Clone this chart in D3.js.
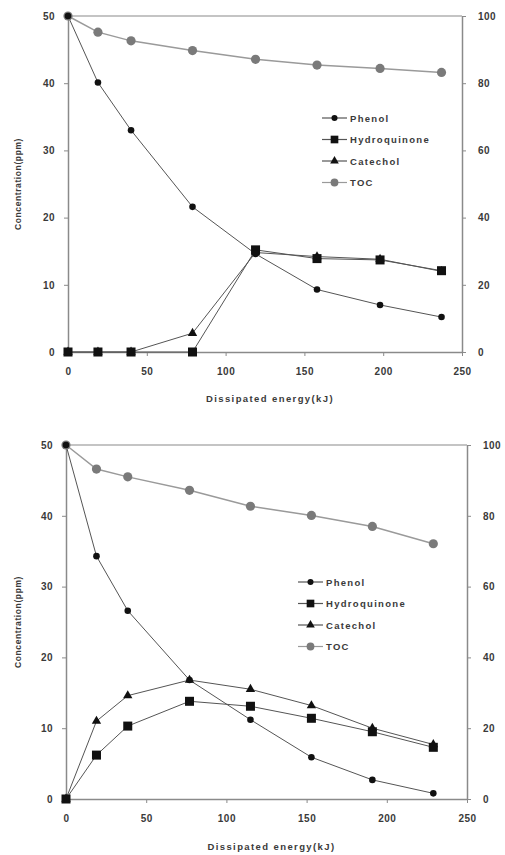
<!DOCTYPE html>
<html>
<head>
<meta charset="utf-8">
<script src="https://cdn.jsdelivr.net/npm/d3@7.9.0/dist/d3.min.js"></script>
<style>
  body { margin: 0; background: #fff; }
  svg { display: block; font-family: "Liberation Sans", Arial, sans-serif; }
</style>
</head>
<body>
<svg id="chart" width="505" height="855"></svg>
<script>
// panel (a)
const energyA = [0, 19, 40, 79, 119, 158, 198, 237];
const phenolA = [50, 40.1, 33, 21.6, 14.6, 9.3, 7.0, 5.2];
const hydroA = [0, 0, 0, 0, 15.2, 13.9, 13.7, 12.1];
const catecholA = [0, 0, 0, 2.8, 14.8, 14.2, 13.8, 12.0];
const tocA = [100, 95.2, 92.6, 89.7, 87.1, 85.4, 84.4, 83.2];

// panel (b)
const energyB = [0, 19, 38.5, 77, 115, 153, 191, 229];
const phenolB = [50, 34.3, 26.6, 16.8, 11.2, 5.9, 2.7, 0.8];
const hydroB = [0, 6.2, 10.3, 13.8, 13.1, 11.4, 9.5, 7.3];
const catecholB = [0, 11.0, 14.6, 16.8, 15.5, 13.2, 10.0, 7.7];
const tocB = [100, 93.2, 91.0, 87.2, 82.7, 80.1, 77.0, 72.1];

const seriesNames = ['Phenol', 'Hydroquinone', 'Catechol', 'TOC'];
const xTicks = [0, 50, 100, 150, 200, 250];
const leftTicks = [0, 10, 20, 30, 40, 50];
const rightTicks = [0, 20, 40, 60, 80, 100];

const svg = d3.select('#chart');

function marker(g, type, x, y, small) {
    const k = small ? 0.85 : 1;
    if (type === 'Phenol') {
        g.append('path').attr('transform', `translate(${x},${y})`)
            .attr('d', d3.symbol(d3.symbolCircle, 34 * k)()).attr('fill', '#111');
    } else if (type === 'Hydroquinone') {
        const s = 9 * k;
        g.append('rect').attr('x', x - s / 2).attr('y', y - s / 2).attr('width', s).attr('height', s).attr('fill', '#111');
    } else if (type === 'Catechol') {
        g.append('path').attr('transform', `translate(${x},${y})`)
            .attr('d', d3.symbol(d3.symbolTriangle, 38 * k)()).attr('fill', '#111');
    } else {
        g.append('circle').attr('cx', x).attr('cy', y).attr('r', 4.6 * k).attr('fill', '#7a7a7a');
    }
}

function drawPanel(opt) {
    const x = d3.scaleLinear().domain([0, 250]).range(opt.xr);
    const yL = d3.scaleLinear().domain([0, 50]).range(opt.yr);
    const yR = d3.scaleLinear().domain([0, 100]).range(opt.yr);
    const g = svg.append('g');

    // top border
    g.append('line').attr('x1', x(0)).attr('x2', x(250)).attr('y1', yL(50)).attr('y2', yL(50))
        .attr('stroke', '#c4c4c4').attr('stroke-width', 2);

    const axisStyle = (sel) => {
        sel.select('.domain').attr('stroke', '#8a8a8a').attr('stroke-width', 1.5);
        sel.selectAll('.tick line').attr('stroke', '#8a8a8a');
        sel.selectAll('.tick text').attr('fill', '#3a3a3a').attr('font-size', 10)
            .attr('letter-spacing', 0.5).attr('font-weight', 'bold');
    };

    g.append('g').attr('transform', `translate(0,${yL(0)})`)
        .call(d3.axisBottom(x).tickValues(xTicks).tickSize(4).tickSizeOuter(0).tickPadding(12))
        .call(axisStyle);
    g.append('g').attr('transform', `translate(${x(0)},0)`)
        .call(d3.axisLeft(yL).tickValues(leftTicks).tickSize(4).tickSizeOuter(0).tickPadding(9))
        .call(axisStyle);
    g.append('g').attr('transform', `translate(${x(250)},0)`)
        .call(d3.axisRight(yR).tickValues(rightTicks).tickSize(4).tickSizeOuter(0).tickPadding(12))
        .call(axisStyle);

    // titles
    g.append('text').attr('x', (x(0) + x(250)) / 2 + 5).attr('y', opt.xTitleY)
        .attr('text-anchor', 'middle').attr('font-size', 9.5).attr('letter-spacing', 1.4)
        .attr('fill', '#3a3a3a').attr('font-weight', 'bold').text('Dissipated energy(kJ)');
    g.append('text').attr('transform', `translate(21,${(yL(0) + yL(50)) / 2}) rotate(-90)`)
        .attr('text-anchor', 'middle').attr('font-size', 8.5).attr('letter-spacing', 0.6)
        .attr('fill', '#3a3a3a').attr('font-weight', 'bold').text('Concentration(ppm)');

    const sets = [
        { name: 'Phenol', vals: opt.phenol, y: yL, stroke: '#555' },
        { name: 'Hydroquinone', vals: opt.hydro, y: yL, stroke: '#555' },
        { name: 'Catechol', vals: opt.catechol, y: yL, stroke: '#555' },
        { name: 'TOC', vals: opt.toc, y: yR, stroke: '#9a9a9a' }
    ];

    sets.forEach((s) => {
        const line = d3.line().x((d, i) => x(opt.energy[i])).y((d) => s.y(d));
        g.append('path').attr('d', line(s.vals)).attr('fill', 'none')
            .attr('stroke', s.stroke).attr('stroke-width', s.name === 'TOC' ? 1.5 : 1);
    });
    sets.slice().reverse().forEach((s) => {
        s.vals.forEach((v, i) => marker(g, s.name, x(opt.energy[i]), s.y(v)));
    });

    // legend
    const lg = g.append('g');
    seriesNames.forEach((name, i) => {
        const yy = opt.legY + i * 21.5;
        lg.append('line').attr('x1', opt.legX).attr('x2', opt.legX + 25).attr('y1', yy).attr('y2', yy)
            .attr('stroke', name === 'TOC' ? '#9a9a9a' : '#555').attr('stroke-width', 1.2);
        marker(lg, name, opt.legX + 12.5, yy, true);
        lg.append('text').attr('x', opt.legX + 28).attr('y', yy + 3.5)
            .attr('font-size', 9.5).attr('letter-spacing', 1.3).attr('fill', '#3a3a3a')
            .attr('font-weight', 'bold').text(name);
    });
}

drawPanel({
    xr: [68, 462], yr: [352, 16], xTitleY: 402,
    energy: energyA, phenol: phenolA, hydro: hydroA, catechol: catecholA, toc: tocA,
    legX: 322, legY: 118
});
drawPanel({
    xr: [66, 467], yr: [799, 445], xTitleY: 850,
    energy: energyB, phenol: phenolB, hydro: hydroB, catechol: catecholB, toc: tocB,
    legX: 298, legY: 582
});
</script>
</body>
</html>
